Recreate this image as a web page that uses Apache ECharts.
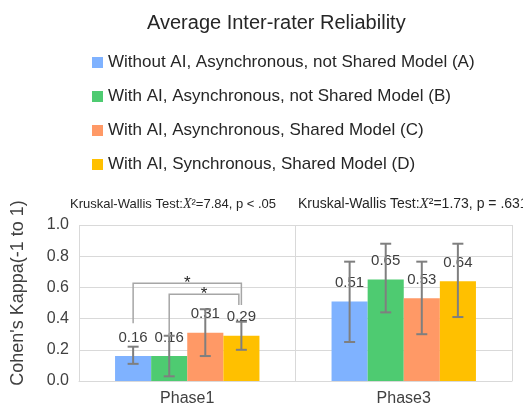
<!DOCTYPE html>
<html>
<head>
<meta charset="utf-8">
<script src="https://cdn.jsdelivr.net/npm/echarts@6/dist/echarts.min.js"></script>
<style>
html, body { margin: 0; padding: 0; background: #fff; }
#chart { width: 523px; height: 409px; }
</style>
</head>
<body>
<div id="chart"></div>
<script>
const categories = ['Phase1', 'Phase3'];
const groupNames = [
    'Without AI, Asynchronous, not Shared Model (A)',
    'With AI, Asynchronous, not Shared Model (B)',
    'With AI, Asynchronous, Shared Model (C)',
    'With AI, Synchronous, Shared Model (D)'
];
// mean kappa per group, [Phase1, Phase3]
const meanA = [0.16, 0.51];
const meanB = [0.16, 0.65];
const meanC = [0.31, 0.53];
const meanD = [0.29, 0.64];
// error bar ends
const lowA = [0.11, 0.25];
const lowB = [0.03, 0.44];
const lowC = [0.16, 0.30];
const lowD = [0.20, 0.41];
const highA = [0.22, 0.765];
const highB = [0.29, 0.88];
const highC = [0.46, 0.765];
const highD = [0.38, 0.88];
// significance brackets (Phase1): bar slots and heights
const bracketCat = [0, 0];
const bracketFrom = [0, 1];
const bracketTo = [3, 2.93];
const bracketTop = [0.626, 0.556];
const bracketFromEnd = [0.37, 0.285];
const bracketToEnd = [0.487, 0.487];
const yTicks = [0, 0.2, 0.4, 0.6, 0.8, 1.0];

const means = [meanA, meanB, meanC, meanD];
const lows = [lowA, lowB, lowC, lowD];
const highs = [highA, highB, highC, highD];
const colors = ['#7FB2FF', '#4ECB71', '#FF9966', '#FFC000'];
const catGap = 1 / 3;

// x centre of a bar slot inside a category
const slotX = (api, cat, slot) => {
    const c = api.coord([cat, 0])[0];
    const band = api.size([1, 0])[0];
    const bw = band * (1 - catGap) / 4;
    return c + (slot - 1.5) * bw;
};

const errData = [];
means.forEach((m, g) => {
    categories.forEach((c, i) => {
        errData.push([i, g, lows[g][i], highs[g][i]]);
    });
});
const bracketData = bracketCat.map((c, k) => [c, bracketFrom[k], bracketTo[k], bracketTop[k], bracketFromEnd[k], bracketToEnd[k]]);

const txt = '#404040';
const kwText = (text, left, size) => ({
    type: 'text', left: left, top: 197,
    style: {
        text: text,
        font: size + 'px "Liberation Sans"', fill: '#262626',
        rich: { x: { fontFamily: 'Liberation Serif', fontStyle: 'italic', fontSize: size + 1, fill: '#262626' } }
    }
});

const option = {
    animation: false,
    title: {
        text: 'Average Inter-rater Reliability',
        left: 142,
        top: 8,
        textStyle: { fontFamily: 'Liberation Sans', fontSize: 20, fontWeight: 'normal', color: '#262626' }
    },
    legend: {
        data: groupNames,
        orient: 'vertical',
        left: 92,
        top: 54,
        padding: 0,
        icon: 'rect',
        itemWidth: 11,
        itemHeight: 11,
        itemGap: 17,
        textStyle: { fontFamily: 'Liberation Sans', fontSize: 17, color: '#262626' }
    },
    graphic: [
        kwText('Kruskal-Wallis Test:{x|X}²=7.84, p < .05', 70, 13),
        kwText('Kruskal-Wallis Test:{x|X}²=1.73, p = .631', 298, 14)
    ],
    grid: { left: 79, right: 11, top: 225, bottom: 28 },
    xAxis: {
        type: 'category',
        data: categories,
        axisLine: { show: true, lineStyle: { color: '#d9d9d9' } },
        axisTick: { show: false },
        splitLine: { show: true, lineStyle: { color: '#d9d9d9' } },
        axisLabel: { fontFamily: 'Liberation Sans', fontSize: 16, color: txt, margin: 10 }
    },
    yAxis: {
        type: 'value',
        min: yTicks[0],
        max: yTicks[yTicks.length - 1],
        interval: 0.2,
        name: "Cohen's Kappa(-1 to 1)",
        nameLocation: 'middle',
        nameRotate: 90,
        nameGap: 52,
        nameTextStyle: { fontFamily: 'Liberation Sans', fontSize: 18, color: txt, padding: [0, 0, 0, 20] },
        axisLine: { show: false },
        axisTick: { show: false },
        splitLine: { lineStyle: { color: '#d9d9d9' } },
        axisLabel: { fontFamily: 'Liberation Sans', fontSize: 16, color: txt, margin: 10, formatter: v => v.toFixed(1) }
    },
    series: [
        ...means.map((m, g) => ({
            name: groupNames[g],
            type: 'bar',
            data: m,
            barGap: '0%',
            barCategoryGap: '33.3%',
            itemStyle: { color: colors[g] },
            label: {
                show: true,
                position: 'top',
                distance: 11,
                fontFamily: 'Liberation Sans',
                fontSize: 15,
                color: txt,
                formatter: p => p.value.toFixed(2)
            }
        })),
        {
            type: 'custom',
            name: 'error',
            z: 3,
            data: errData,
            encode: { x: 0, y: [2, 3] },
            renderItem: (params, api) => {
                const cat = api.value(0);
                const x = slotX(api, cat, api.value(1));
                const y1 = api.coord([cat, api.value(2)])[1];
                const y2 = api.coord([cat, api.value(3)])[1];
                const st = { stroke: '#7f7f7f', lineWidth: 2 };
                const hw = 5.5;
                return {
                    type: 'group',
                    children: [
                        { type: 'line', shape: { x1: x, y1: y1, x2: x, y2: y2 }, style: st },
                        { type: 'line', shape: { x1: x - hw, y1: y1, x2: x + hw, y2: y1 }, style: st },
                        { type: 'line', shape: { x1: x - hw, y1: y2, x2: x + hw, y2: y2 }, style: st }
                    ]
                };
            }
        },
        {
            type: 'custom',
            name: 'bracket',
            z: 4,
            data: bracketData,
            encode: { x: 0, y: 3 },
            renderItem: (params, api) => {
                const cat = api.value(0);
                const xa = slotX(api, cat, api.value(1));
                const xb = slotX(api, cat, api.value(2));
                const yt = api.coord([cat, api.value(3)])[1];
                const ya = api.coord([cat, api.value(4)])[1];
                const yb = api.coord([cat, api.value(5)])[1];
                return {
                    type: 'group',
                    children: [
                        {
                            type: 'polyline',
                            shape: { points: [[xa, ya], [xa, yt], [xb, yt], [xb, yb]] },
                            style: { stroke: '#a6a6a6', lineWidth: 1.5, fill: null }
                        },
                        {
                            type: 'text',
                            style: {
                                x: (xa + xb) / 2, y: yt,
                                text: '*', align: 'center', verticalAlign: 'middle',
                                font: '17px "Liberation Sans"', fill: '#262626'
                            }
                        }
                    ]
                };
            }
        }
    ]
};

const chart = echarts.init(document.getElementById('chart'));
chart.setOption(option);
</script>
</body>
</html>
